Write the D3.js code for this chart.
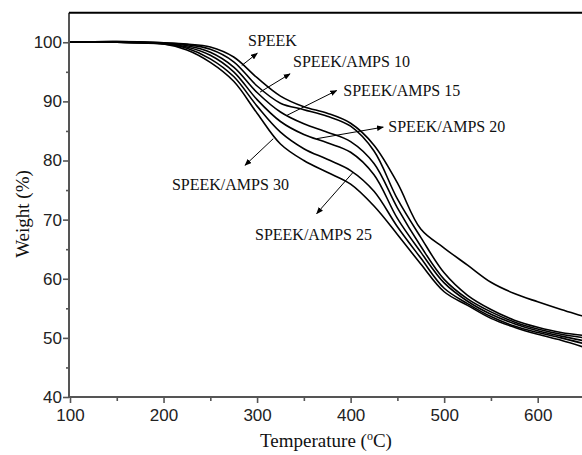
<!DOCTYPE html>
<html>
<head>
<meta charset="utf-8">
<script src="https://cdn.jsdelivr.net/npm/d3@7"></script>
<style>
  body { margin: 0; background: #fff; }
  svg { display: block; }
</style>
</head>
<body>
<svg id="chart" width="582" height="455"></svg>
<script>
// TGA data
const temps = [100, 150, 200, 225, 250, 275, 300, 325, 350, 375, 400, 425, 450, 475, 500, 525, 550, 575, 600, 625, 650];
const speek  = [100, 100.1, 99.9, 99.7, 99.2, 97.5, 94.0, 90.9, 89.1, 88.0, 86.3, 82.6, 76.2, 68.4, 65.2, 62.3, 59.4, 57.5, 56.1, 54.8, 53.6];
const amps10 = [100, 100.1, 99.9, 99.6, 98.8, 96.7, 92.6, 89.7, 88.6, 87.5, 85.8, 81.6, 73.5, 67.0, 61.0, 57.2, 54.8, 53.0, 51.8, 50.9, 50.4];
const amps15 = [100, 100, 99.8, 99.4, 98.3, 95.8, 91.5, 88.2, 86.2, 84.8, 83.2, 79.5, 72.0, 65.5, 59.9, 56.6, 54.4, 52.7, 51.5, 50.6, 50.0];
const amps20 = [100, 100, 99.8, 99.2, 97.8, 95.0, 90.3, 86.6, 84.4, 83.0, 81.4, 77.6, 70.2, 64.5, 59.3, 56.2, 54.0, 52.4, 51.2, 50.3, 49.5];
const amps25 = [100, 100, 99.7, 99.0, 97.2, 94.2, 89.2, 84.8, 82.0, 80.2, 78.3, 74.8, 68.8, 63.5, 58.4, 55.8, 53.6, 52.0, 50.9, 50.0, 49.0];
const amps30 = [100, 100, 99.7, 98.7, 96.6, 93.4, 88.0, 82.8, 80.0, 78.0, 76.0, 72.3, 67.5, 62.5, 57.8, 55.5, 53.3, 51.8, 50.6, 49.6, 48.4];
const allSeries = [speek, amps10, amps15, amps20, amps25, amps30];

const xTicks = [100, 200, 300, 400, 500, 600];
const xMinor = [150, 250, 350, 450, 550, 650];
const yTicks = [40, 50, 60, 70, 80, 90, 100];
const yMinor = [45, 55, 65, 75, 85, 95];

// annotations: label text, label anchor (temp, weight), arrow start on curve, arrow tip
const labelNames = ["SPEEK", "SPEEK/AMPS 10", "SPEEK/AMPS 15", "SPEEK/AMPS 20", "SPEEK/AMPS 25", "SPEEK/AMPS 30"];
const labelAt   = [[290.3, 99.44], [338.4, 95.78], [392.2, 90.83], [440.3, 84.8], [297.8, 66.5], [209, 74.96]];
const arrowFrom = [[283.6, 96.07], [303.1, 91.56], [331.7, 87.62], [363.7, 83.69], [402.9, 78.05], [317.3, 83.69]];
const arrowTo   = [[300.2, 98.14], [335.2, 94.66], [385.1, 91.84], [434.9, 85.65], [363.7, 71.02], [287.1, 79.19]];

const svg = d3.select('#chart');
const W = 582, H = 455;
const plotLeft = 69, plotTop = 12.7, plotBottom = 397;

const x = d3.scaleLinear().domain([100, 650]).range([70, 70 + 550 * 0.9354]);
const y = d3.scaleLinear().domain([40, 105]).range([plotBottom, plotTop]);

const defs = svg.append('defs');
defs.append('clipPath').attr('id', 'clip')
  .append('rect').attr('x', plotLeft).attr('y', plotTop).attr('width', W - plotLeft).attr('height', plotBottom - plotTop);

defs.append('marker')
  .attr('id', 'head').attr('viewBox', '0 0 10 8').attr('refX', 9).attr('refY', 4)
  .attr('markerWidth', 7).attr('markerHeight', 6).attr('markerUnits', 'userSpaceOnUse')
  .attr('orient', 'auto')
  .append('path').attr('d', 'M0,0 L10,4 L0,8 Z').attr('fill', '#000');

// curves
const line = d3.line()
  .x((d, i) => x(temps[i]))
  .y(d => y(d))
  .curve(d3.curveCatmullRom.alpha(0.5));

svg.append('g').attr('clip-path', 'url(#clip)')
  .selectAll('path')
  .data(allSeries)
  .enter()
  .append('path')
  .attr('d', line)
  .attr('fill', 'none')
  .attr('stroke', '#000')
  .attr('stroke-width', 1.6);

// axes
const axisColor = '#555';
const xAxis = svg.append('g').attr('transform', `translate(0,${plotBottom})`)
  .call(d3.axisBottom(x).tickValues(xTicks).tickSize(6).tickPadding(6).tickFormat(d3.format('d')));
svg.append('g').attr('transform', `translate(0,${plotBottom})`)
  .call(d3.axisBottom(x).tickValues(xMinor).tickSize(4).tickFormat(''))
  .select('.domain').remove();

const yAxis = svg.append('g').attr('transform', `translate(${plotLeft},0)`)
  .call(d3.axisLeft(y).tickValues(yTicks).tickSize(6).tickPadding(1).tickFormat(d3.format('d')));
svg.append('g').attr('transform', `translate(${plotLeft},0)`)
  .call(d3.axisLeft(y).tickValues(yMinor).tickSize(3).tickFormat(''))
  .select('.domain').remove();

svg.selectAll('.domain').attr('stroke', axisColor).attr('stroke-width', 2);
svg.selectAll('.tick line').attr('stroke', axisColor).attr('stroke-width', 1.6);
svg.selectAll('.tick text')
  .attr('fill', '#222')
  .style('font-family', '"Liberation Sans", Arial, sans-serif')
  .style('font-size', '17px');

// x domain extends past the crop, pin the axis lines to the visible area
xAxis.select('.domain').attr('d', `M${plotLeft},0H${W}`);
yAxis.select('.domain').attr('d', `M0,${plotBottom}V${plotTop}`);

// top frame line
svg.append('line')
  .attr('x1', plotLeft).attr('x2', W).attr('y1', plotTop).attr('y2', plotTop)
  .attr('stroke', '#000').attr('stroke-width', 2);

// annotations
const serif = '"Liberation Serif", "Times New Roman", serif';
svg.append('g').selectAll('line')
  .data(arrowFrom)
  .enter()
  .append('line')
  .attr('x1', d => x(d[0])).attr('y1', d => y(d[1]))
  .attr('x2', (d, i) => x(arrowTo[i][0])).attr('y2', (d, i) => y(arrowTo[i][1]))
  .attr('stroke', '#000').attr('stroke-width', 1)
  .attr('marker-end', 'url(#head)');

svg.append('g').selectAll('text')
  .data(labelNames)
  .enter()
  .append('text')
  .attr('x', (d, i) => x(labelAt[i][0]))
  .attr('y', (d, i) => y(labelAt[i][1]))
  .style('font-family', serif)
  .style('font-size', '16px')
  .attr('fill', '#111')
  .text(d => d);

// axis titles
svg.append('text')
  .attr('transform', 'translate(29,214) rotate(-90)')
  .attr('text-anchor', 'middle')
  .style('font-family', serif)
  .style('font-size', '19px')
  .attr('fill', '#111')
  .text('Weight (%)');

const xt = svg.append('text')
  .attr('x', 326).attr('y', 447)
  .attr('text-anchor', 'middle')
  .style('font-family', serif)
  .style('font-size', '19px')
  .attr('fill', '#111');
xt.append('tspan').text('Temperature (');
xt.append('tspan').attr('dy', -7).style('font-size', '12px').text('o');
xt.append('tspan').attr('dy', 7).text('C)');
</script>
</body>
</html>
